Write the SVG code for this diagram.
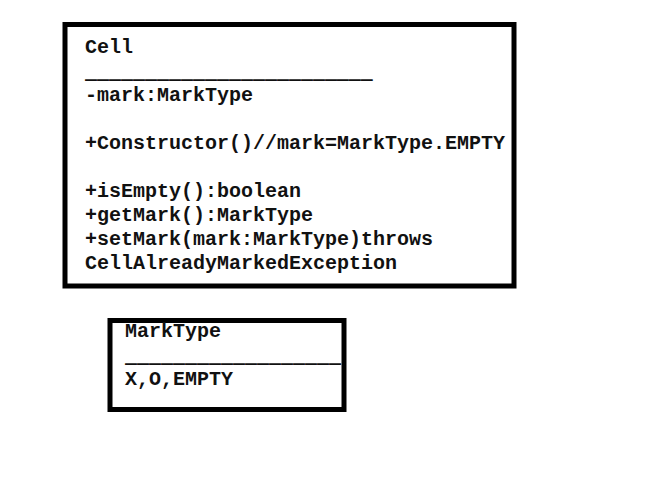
<svg xmlns="http://www.w3.org/2000/svg" width="649" height="485" viewBox="0 0 649 485">
<style>
.box{fill:#fff;stroke:#000;stroke-width:5}
.t{font-family:"Liberation Mono","DejaVu Sans Mono",monospace;font-weight:bold;font-size:20px;fill:#111}
.u{font-family:"DejaVu Sans Mono","Liberation Mono",monospace;font-weight:bold;font-size:19.93px;fill:#111}
</style>
<rect width="649" height="485" fill="#fff"/>
<g id="cell">
<rect class="box" x="65" y="24.5" width="449" height="261.5"/>
<text class="t" x="85" y="53">Cell</text>
<text class="u" x="85" y="76">________________________</text>
<text class="t" x="85" y="101">-mark:MarkType</text>
<text class="t" x="85" y="149">+Constructor()//mark=MarkType.EMPTY</text>
<text class="t" x="85" y="197">+isEmpty():boolean</text>
<text class="t" x="85" y="221">+getMark():MarkType</text>
<text class="t" x="85" y="245">+setMark(mark:MarkType)throws</text>
<text class="t" x="85" y="269">CellAlreadyMarkedException</text>
</g>
<g id="marktype">
<rect class="box" x="110" y="320.5" width="234" height="89"/>
<text class="t" x="125" y="337">MarkType</text>
<text class="u" x="125" y="360">__________________</text>
<text class="t" x="125" y="385">X,O,EMPTY</text>
</g>
<g id="connectors"/>
</svg>
